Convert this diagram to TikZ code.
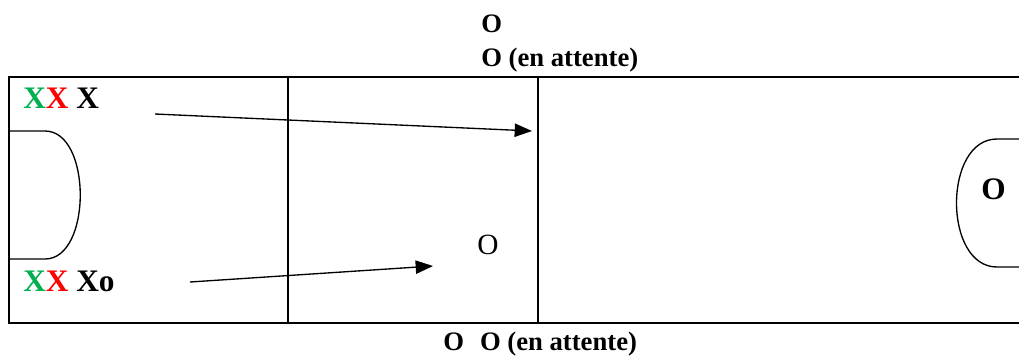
\documentclass[tikz,border=0pt]{standalone}
\usepackage{fontspec}
\setmainfont{Liberation Serif}
\usetikzlibrary{arrows.meta}
\definecolor{xgreen}{RGB}{0,176,80}
\definecolor{xred}{RGB}{255,0,0}
\begin{document}
\begin{tikzpicture}[x=0.75pt,y=-0.75pt,
  frame/.style={line width=1.6pt},
  divider/.style={line width=1.2pt},
  bay/.style={line width=1pt},
  lbl/.style={inner sep=0pt,anchor=base west,font=\fontsize{20}{24}\selectfont\bfseries},
  player/.style={inner sep=0pt,anchor=base west,font=\fontsize{23.5}{28}\selectfont\bfseries},
  plain/.style={inner sep=0pt,anchor=base west,font=\fontsize{22}{26}\selectfont},
  move/.style={line width=1pt,-{Triangle[length=13pt,width=10pt]}}]
\useasboundingbox (0,0) rectangle (1019,358);

% field outline (open on the right)
\draw[frame] (1019,77) -- (9,77) -- (9,323) -- (1019,323);
\draw[divider] (288,77) -- (288,323);
\draw[divider] (538,77) -- (538,323);

% goal areas
\draw[bay] (9,131) -- (45,131) .. controls (92,131) and (92,259) .. (45,259) -- (9,259);
\draw[bay] (1019,139) -- (997,139) .. controls (943,139) and (943,267) .. (997,267) -- (1019,267);

% labels above and below the field
\node[lbl] (otop) at (481,32) {O};
\node[lbl] (owait) at (481,66) {O (en attente)};
\node[lbl] (obottom) at (443,350) {O\hspace{0.6em}O (en attente)};

% players
\node[player] (xtop) at (23,108) {\textcolor{xgreen}{X}\textcolor{xred}{X} X};
\node[player] (xbot) at (23,291) {\textcolor{xgreen}{X}\textcolor{xred}{X} Xo};
\node[plain] (omid) at (477,254) {O};
\node[player] (oright) at (981,199) {O};

% movements
\coordinate (a1) at (155,114);
\coordinate (b1) at (532,131);
\coordinate (a2) at (190,282);
\coordinate (b2) at (433,266);
\draw[move] (a1) -- (b1);
\draw[move] (a2) -- (b2);
\end{tikzpicture}
\end{document}
